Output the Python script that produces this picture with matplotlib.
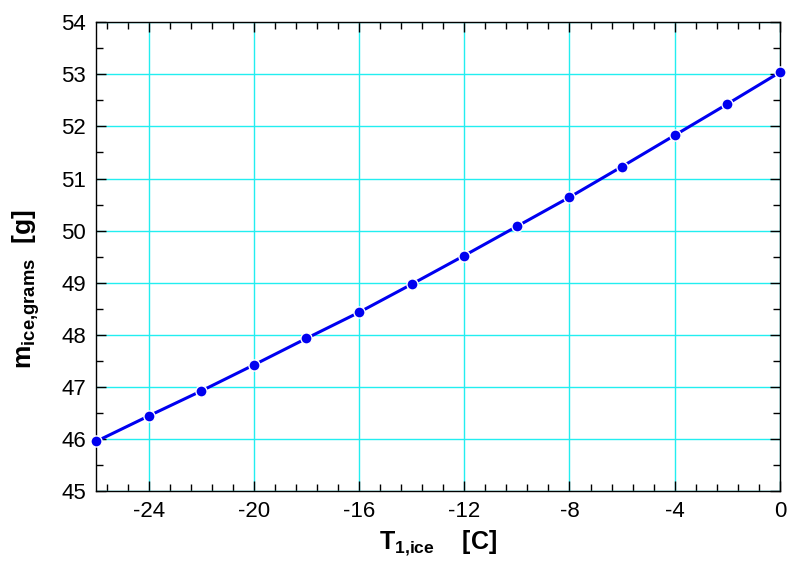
import matplotlib
matplotlib.use('Agg')
import matplotlib.pyplot as plt
from matplotlib.ticker import MultipleLocator, AutoMinorLocator

plt.rcParams['font.family'] = ['Liberation Sans', 'DejaVu Sans']
plt.rcParams['axes.unicode_minus'] = False
plt.rcParams['mathtext.fontset'] = 'custom'
plt.rcParams['mathtext.rm'] = 'Liberation Sans:bold'
plt.rcParams['mathtext.bf'] = 'Liberation Sans:bold'

# ice temperature [C] vs ice mass [g]
T_ice = [-26, -24, -22, -20, -18, -16, -14, -12, -10, -8, -6, -4, -2, 0]
m_ice = [45.95, 46.44, 46.92, 47.42, 47.93, 48.43, 48.97,
         49.52, 50.08, 50.64, 51.23, 51.83, 52.43, 53.04]

C_LINE = '#0000F0'; C_GRID = '#22EEF0'

fig = plt.figure(figsize=(7.87, 5.64), dpi=100, facecolor='white')
ax = fig.add_axes([0.122, 0.1295, 0.869, 0.831])

ax.plot(T_ice, m_ice, '-', color=C_LINE, lw=2.2, zorder=3)
ax.plot(T_ice, m_ice, 'o', color=C_LINE, markersize=8, markeredgecolor='white',
        markeredgewidth=1.0, zorder=4, clip_on=False)

ax.set_xlim(-26, 0); ax.set_ylim(45, 54)
ax.xaxis.set_major_locator(MultipleLocator(4))
ax.xaxis.set_minor_locator(AutoMinorLocator(5))
ax.yaxis.set_major_locator(MultipleLocator(1))
ax.yaxis.set_minor_locator(AutoMinorLocator(2))
ax.grid(True, which='major', color=C_GRID, lw=1.0, zorder=1)

ax.tick_params(which='both', direction='in', top=True, right=True, width=1.0,
               labelsize=16, pad=7)
ax.tick_params(which='major', length=7)
ax.tick_params(which='minor', length=5)
for s in ax.spines.values():
    s.set_linewidth(1.0)

ax.set_xlabel(r'$\text{T}_{\text{1,ice}}$    [C]', fontsize=18, fontweight='bold', labelpad=5)
ax.set_ylabel(r'$\text{m}_{\text{ice,grams}}$  [g]', fontsize=19, fontweight='bold', labelpad=14)
ax.yaxis.label.set_y(0.43)

fig.savefig('out.png', dpi=100, facecolor='white')
